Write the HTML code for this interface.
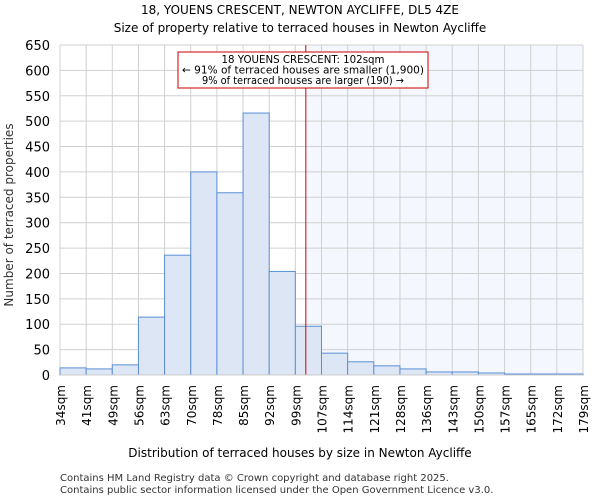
<!DOCTYPE html>
<html><head><meta charset="utf-8"><style>
body{margin:0;background:#fff;font-family:"DejaVu Sans","Liberation Sans",sans-serif}
</style></head><body>
<svg width="600" height="500" xmlns="http://www.w3.org/2000/svg" font-family="DejaVu Sans, Liberation Sans, sans-serif">
<text x="300" y="14" text-anchor="middle" font-size="12">18, YOUENS CRESCENT, NEWTON AYCLIFFE, DL5 4ZE</text>
<text x="300" y="32" text-anchor="middle" font-size="12">Size of property relative to terraced houses in Newton Aycliffe</text>
<g id="plot"></g>
<text x="300" y="457" text-anchor="middle" font-size="12">Distribution of terraced houses by size in Newton Aycliffe</text>
<text transform="translate(13,215) rotate(-90)" text-anchor="middle" font-size="12" fill="#333">Number of terraced properties</text>
<text x="60" y="481" font-size="10" fill="#333">Contains HM Land Registry data © Crown copyright and database right 2025.</text>
<text x="60" y="493" font-size="10" fill="#333">Contains public sector information licensed under the Open Government Licence v3.0.</text>
</svg>
<script>
const categories=["34sqm","41sqm","49sqm","56sqm","63sqm","70sqm","78sqm","85sqm","92sqm","99sqm","107sqm","114sqm","121sqm","128sqm","136sqm","143sqm","150sqm","157sqm","165sqm","172sqm","179sqm"];
const counts=[14,12,20,114,236,400,359,516,204,96,43,26,18,12,6,6,4,2,2,2];
const yTicks=[0,50,100,150,200,250,300,350,400,450,500,550,600,650];
const markerBin=9.4;
const annotation=["18 YOUENS CRESCENT: 102sqm","← 91% of terraced houses are smaller (1,900)","9% of terraced houses are larger (190) →"];
const annWidths=[163,242,202];
const L=60,R=583,T=45,B=375,ymax=650,n=counts.length,bw=(R-L)/n;
const xs=i=>L+i*bw, ys=v=>B-v/ymax*(B-T);
const g=document.getElementById('plot');const NS="http://www.w3.org/2000/svg";
function mk(t,a){const e=document.createElementNS(NS,t);for(const k in a)e.setAttribute(k,a[k]);g.appendChild(e);return e;}
let sh=mk('rect',{x:xs(markerBin),y:T,width:R-xs(markerBin),height:B-T,fill:'#f4f7fd'});


yTicks.forEach(v=>{let l=mk('line',{x1:L,x2:R,y1:ys(v),y2:ys(v),stroke:'#d0d0d0'});


let t=mk('text',{x:L-10,y:ys(v)+5,'text-anchor':'end','font-size':13});t.textContent=v;

});
categories.forEach((c,i)=>{let l=mk('line',{x1:xs(i),x2:xs(i),y1:T,y2:B,stroke:'#d0d0d0'});


let t=mk('text',{transform:`translate(${xs(i)+5},${B+10}) rotate(-90)`,'text-anchor':'end','font-size':12});t.textContent=c;

});
counts.forEach((v,i)=>{let r=mk('rect',{x:xs(i),y:ys(v),width:bw,height:B-ys(v),fill:'#dce6f5',stroke:'#5b8fd6','stroke-width':1});

});
let ml=mk('line',{x1:xs(markerBin),x2:xs(markerBin),y1:T,y2:B,stroke:'#dd0000','stroke-width':1});


let ax=mk('line',{x1:L,x2:R,y1:B,y2:B,stroke:'#ccc'});


let bx=mk('rect',{x:178,y:52,width:250,height:36,fill:'#fff',stroke:'#cc0000'});


annotation.forEach((s,i)=>{let t=mk('text',{x:303,y:63+i*10.5,'text-anchor':'middle','font-size':10.5,textLength:annWidths[i],lengthAdjust:'spacingAndGlyphs'});t.textContent=s;

});
</script>
</body></html>
